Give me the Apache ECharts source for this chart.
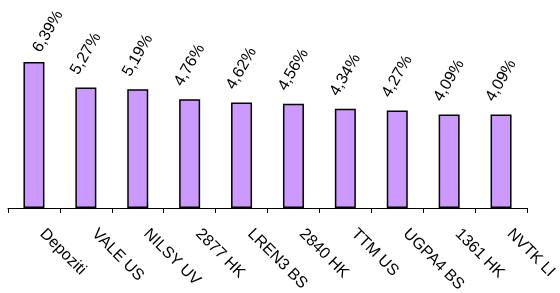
<!DOCTYPE html>
<html>
<head>
<meta charset="utf-8">
<script src="https://cdn.jsdelivr.net/npm/echarts@6/dist/echarts.min.js"></script>
<style>
  html, body { margin: 0; padding: 0; background: #fff; }
  #chart { width: 560px; height: 293px; }
</style>
</head>
<body>
<div id="chart"></div>
<script>
const categories = ["Depoziti", "VALE US", "NILSY UV", "2877 HK", "LREN3 BS", "2840 HK", "TTM US", "UGPA4 BS", "1361 HK", "NVTK LI"];
const weights = [6.39, 5.27, 5.19, 4.76, 4.62, 4.56, 4.34, 4.27, 4.09, 4.09];

// the first label sits a little to the right of its bar in the original
// (offset is in the rotated text frame)
const barData = weights.map((v, i) =>
  i === 0 ? { value: v, label: { offset: [4, 14] } } : v
);

const chart = echarts.init(document.getElementById("chart"));
chart.setOption({
  animation: false,
  grid: { left: 8, right: 33, top: 48, bottom: 85, outerBoundsMode: "none" },
  xAxis: {
    type: "category",
    data: categories,
    axisLine: { lineStyle: { color: "#000", width: 1 } },
    axisTick: { show: true, length: 5, lineStyle: { color: "#000" } },
    axisLabel: {
      interval: 0,
      rotate: -45,
      margin: 15,
      padding: [0, 0, 0, 12],
      color: "#000",
      fontFamily: "Liberation Sans, Arial",
      fontSize: 16
    }
  },
  yAxis: {
    type: "value",
    min: 0,
    max: 7,
    show: false
  },
  series: [
    {
      type: "bar",
      data: barData,
      barWidth: 21,
      itemStyle: { color: "#CC99FF", borderColor: "#000", borderWidth: 1.5 },
      label: {
        show: true,
        position: "top",
        distance: 34,
        rotate: 60,
        align: "center",
        verticalAlign: "middle",
        color: "#000",
        fontFamily: "Liberation Sans, Arial",
        fontSize: 16,
        formatter: (p) => p.value.toFixed(2).replace(".", ",") + "%"
      }
    }
  ]
});
</script>
</body>
</html>
